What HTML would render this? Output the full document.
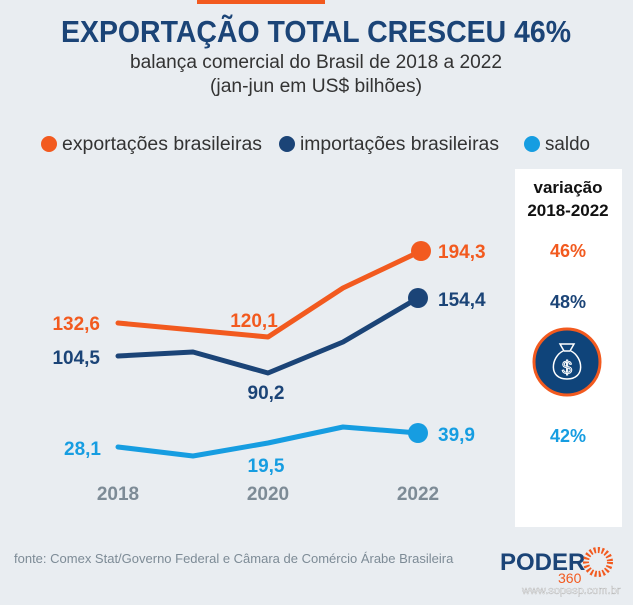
<!DOCTYPE html>
<html><head><meta charset="utf-8"><style>
body{margin:0;width:633px;height:600px;background:#e9edf1;overflow:hidden;font-family:"Liberation Sans",sans-serif}
</style></head><body>
<svg width="633" height="600" xmlns="http://www.w3.org/2000/svg" font-family="Liberation Sans, sans-serif">
<rect width="633" height="600" fill="#e9edf1"/>
<rect x="197" y="0" width="128" height="4" fill="#f25a1f"/>
<text x="316" y="42" text-anchor="middle" font-size="31" font-weight="bold" fill="#1b4477" textLength="510" lengthAdjust="spacingAndGlyphs">EXPORTAÇÃO TOTAL CRESCEU 46%</text>
<text x="316" y="68" text-anchor="middle" font-size="19" fill="#333" textLength="372" lengthAdjust="spacingAndGlyphs">balança comercial do Brasil de 2018 a 2022</text>
<text x="316" y="92" text-anchor="middle" font-size="19" fill="#333" textLength="212" lengthAdjust="spacingAndGlyphs">(jan-jun em US$ bilhões)</text>
<circle cx="49" cy="144" r="8" fill="#f25a1f"/>
<text x="62" y="150" font-size="19" fill="#333" textLength="200" lengthAdjust="spacingAndGlyphs">exportações brasileiras</text>
<circle cx="287" cy="144" r="8" fill="#1b4477"/>
<text x="300" y="150" font-size="19" fill="#333" textLength="199" lengthAdjust="spacingAndGlyphs">importações brasileiras</text>
<circle cx="532" cy="144" r="8" fill="#169de1"/>
<text x="545" y="150" font-size="19" fill="#333" textLength="45" lengthAdjust="spacingAndGlyphs">saldo</text>
<rect x="515" y="169" width="107" height="358" fill="#fff"/>
<text x="568" y="193" text-anchor="middle" font-size="17" font-weight="bold" fill="#111">variação</text>
<text x="568" y="216" text-anchor="middle" font-size="17" font-weight="bold" fill="#111">2018-2022</text>
<text x="568" y="257" text-anchor="middle" font-size="18" font-weight="bold" fill="#f25a1f">46%</text>
<text x="568" y="308" text-anchor="middle" font-size="18" font-weight="bold" fill="#1b4477">48%</text>
<circle cx="567" cy="362" r="33" fill="#0f447a" stroke="#f25a1f" stroke-width="3"/>
<g fill="none" stroke="#fff" stroke-width="1.5">
<path d="M560 344h14l-4 7h-6z"/>
<path d="M563 351c-12 6-15 28 4 28c19 0 16-22 4-28"/>
<text x="567" y="374" text-anchor="middle" font-size="18" fill="#0f447a" stroke="#fff" stroke-width="1">$</text>
</g>
<text x="568" y="442" text-anchor="middle" font-size="18" font-weight="bold" fill="#169de1">42%</text>
<g fill="none" stroke-width="5" stroke-linejoin="round" stroke-linecap="round">
<polyline points="118,323 193,330 268,337 343,288 421,251" stroke="#f25a1f"/>
<polyline points="118,356 193,352 268,373 343,342 418,298" stroke="#1b4477"/>
<polyline points="118,447 193,456 268,443 343,427 418,433" stroke="#169de1"/>
</g>
<circle cx="421" cy="251" r="10" fill="#f25a1f"/>
<circle cx="418" cy="298" r="10" fill="#1b4477"/>
<circle cx="418" cy="433" r="10" fill="#169de1"/>
<g font-size="19" font-weight="bold">
<text x="100" y="330" text-anchor="end" fill="#f25a1f">132,6</text>
<text x="254" y="327" text-anchor="middle" fill="#f25a1f">120,1</text>
<text x="438" y="258" fill="#f25a1f">194,3</text>
<text x="100" y="364" text-anchor="end" fill="#1b4477">104,5</text>
<text x="266" y="399" text-anchor="middle" fill="#1b4477">90,2</text>
<text x="438" y="306" fill="#1b4477">154,4</text>
<text x="101" y="455" text-anchor="end" fill="#169de1">28,1</text>
<text x="266" y="472" text-anchor="middle" fill="#169de1">19,5</text>
<text x="438" y="441" fill="#169de1">39,9</text>
<text x="118" y="500" text-anchor="middle" fill="#7d8b96">2018</text>
<text x="268" y="500" text-anchor="middle" fill="#7d8b96">2020</text>
<text x="418" y="500" text-anchor="middle" fill="#7d8b96">2022</text>
</g>
<text x="14" y="563" font-size="13" fill="#7d8b96">fonte: Comex Stat/Governo Federal e Câmara de Comércio Árabe Brasileira</text>
<text x="500" y="570" font-size="24" font-weight="bold" fill="#1b4477">PODER</text>
<text x="558" y="583" font-size="14" fill="#f25a1f">360</text>
<g stroke="#f25a1f" stroke-width="2">
<circle cx="598" cy="562" r="12" fill="none" stroke-dasharray="2 2" stroke-width="6"/>
</g>
<text x="522" y="594" font-size="11" fill="#fff" stroke="#999" stroke-width="0.3">www.sopesp.com.br</text>
</svg>
</body></html>
